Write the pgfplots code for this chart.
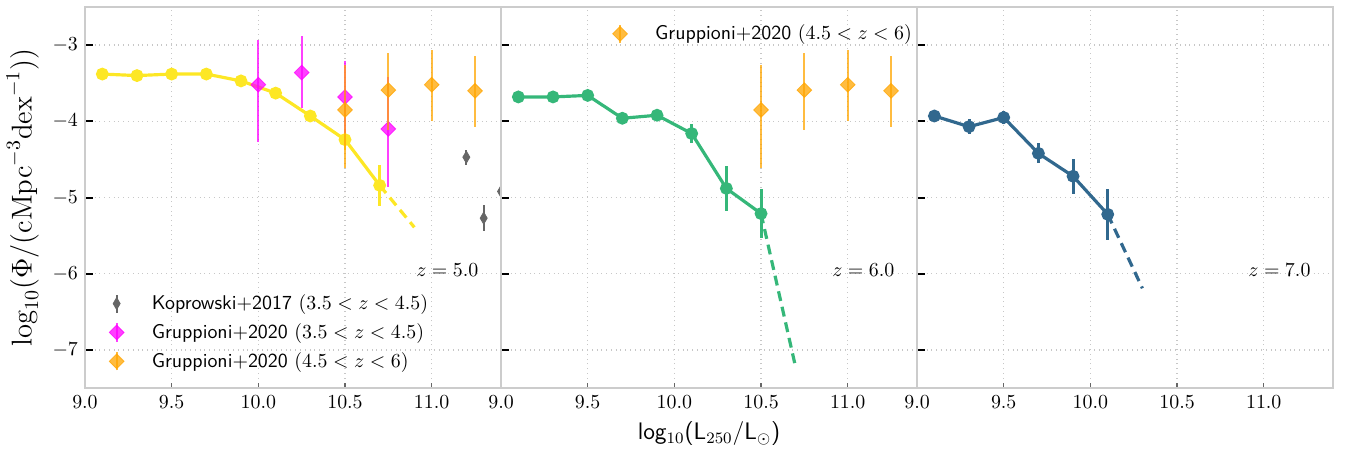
\documentclass[border=0pt]{standalone}
\usepackage{pgfplots}
\pgfplotsset{compat=1.18}
\usepgfplotslibrary{groupplots}
\usepackage{pgfplotstable}

\definecolor{vyellow}{HTML}{FDE725}
\definecolor{vgreen}{HTML}{35B779}
\definecolor{vblue}{HTML}{31688E}
\definecolor{kgray}{HTML}{666666}
\definecolor{gmag}{HTML}{FF00FF}
\definecolor{gorange}{HTML}{FFA500}

% model luminosity functions, x = log10 L250, y = log10 Phi, e = error
\pgfplotstableread{
x y e
9.1 -3.38 0.02
9.3 -3.40 0.02
9.5 -3.38 0.02
9.7 -3.38 0.02
9.9 -3.47 0.03
10.1 -3.63 0.04
10.3 -3.93 0.08
10.5 -4.24 0.14
10.7 -4.84 0.27
}\zfive
\pgfplotstableread{
x y e
9.1 -3.68 0.04
9.3 -3.68 0.03
9.5 -3.66 0.04
9.7 -3.96 0.07
9.9 -3.92 0.07
10.1 -4.16 0.12
10.3 -4.88 0.30
10.5 -5.21 0.32
}\zsix
\pgfplotstableread{
x y e
9.1 -3.93 0.08
9.3 -4.07 0.10
9.5 -3.95 0.09
9.7 -4.42 0.13
9.9 -4.72 0.23
10.1 -5.22 0.33
}\zseven

% observations
\pgfplotstableread{
x y ep em
11.2 -4.47 0.10 0.10
11.3 -5.27 0.17 0.17
11.4 -4.92 0.10 0.10
}\kop
\pgfplotstableread{
x y ep em
10.0 -3.52 0.59 0.75
10.25 -3.36 0.48 0.47
10.5 -3.68 0.47 0.47
10.75 -4.10 0.68 0.76
}\grlow
\pgfplotstableread{
x y ep em
10.5 -3.85 0.59 0.76
10.75 -3.59 0.49 0.52
11.0 -3.52 0.45 0.48
11.25 -3.60 0.46 0.47
}\grhigh

\pgfplotsset{
  model/.style={#1, line width=1.6pt, mark=*, mark size=2.4pt, mark options={solid},
    error bars/y dir=both, error bars/y explicit, error bars/error mark=none,
    error bars/error bar style={line width=1.5pt}},
  ext/.style={#1, line width=1.6pt, dash pattern=on 5pt off 3pt, no marks},
  errleg/.style={legend image code/.code={
      \draw[##1, line width=1pt, mark=none] (0.3cm,-0.16cm) -- (0.3cm,0.16cm);
      \draw[draw=none, fill=none, mark=none] (0cm,0cm) -- (0.85cm,0cm);
      \draw[##1, only marks] plot coordinates {(0.3cm,0cm)};}},
  kopsty/.style={kgray, mark=diamond*, mark size=3pt, mark options={xscale=0.78}},
  magsty/.style={gmag, opacity=0.75, mark=diamond*, mark size=3.7pt, mark options={xscale=1.33}},
  orasty/.style={gorange, opacity=0.75, mark=diamond*, mark size=3.7pt, mark options={xscale=1.33}},
  obs/.style={#1, only marks, error bars/y dir=both, error bars/y explicit,
    error bars/error mark=none, error bars/error bar style={line width=1pt}},
}

\begin{document}
\begin{tikzpicture}
\begin{groupplot}[
  group style={group size=3 by 1, horizontal sep=0pt, y descriptions at=edge left, group name=g},
  width=209pt, height=191.5pt, scale only axis,
  xmin=9, xmax=11.4, ymin=-7.5, ymax=-2.5,
  xtick={9,9.5,10,10.5,11}, ytick={-7,-6,-5,-4,-3},
  xticklabel style={/pgf/number format/.cd, fixed, fixed zerofill, precision=1},
  tick align=inside, xtick pos=bottom, ytick pos=left,
  major tick length=4pt,
  ytick style={black, line width=1pt},
  xtick style={black!60, line width=0.6pt, /pgfplots/major tick length=2.5pt},
  axis line style={draw=black!20, line width=1pt},
  grid=major, major grid style={black!22, dotted, line width=0.6pt},
  clip marker paths=true,
  legend cell align=left,
  legend style={draw=none, fill=none, font=\sffamily, row sep=1.5pt},
]
\nextgroupplot[ylabel={\Large$\log_{10}(\Phi/(\mathrm{cMpc}^{-3}\mathrm{dex}^{-1}))$},
  legend style={at={(0.02,0.025)}, anchor=south west}]
\addlegendimage{kopsty, errleg}\addlegendentry{Koprowski+2017 $(3.5<z<4.5)$}
\addlegendimage{magsty, errleg}\addlegendentry{Gruppioni+2020 $(3.5<z<4.5)$}
\addlegendimage{orasty, errleg}\addlegendentry{Gruppioni+2020 $(4.5<z<6)$}
\addplot[forget plot, model=vyellow] table[x=x, y=y, y error=e] {\zfive};
\addplot[forget plot, ext=vyellow] coordinates {(10.7,-4.84) (10.9,-5.39)};
\addplot[forget plot, obs=kopsty] table[x=x, y=y, y error plus=ep, y error minus=em] {\kop};
\addplot[forget plot, obs=magsty] table[x=x, y=y, y error plus=ep, y error minus=em] {\grlow};
\addplot[forget plot, obs=orasty] table[x=x, y=y, y error plus=ep, y error minus=em] {\grhigh};
\node[anchor=east] at (axis cs:11.31,-5.95) {$z=5.0$};

\nextgroupplot[xlabel={\large\sffamily log$_{10}$(L$_{250}$/L$_{\odot}$)},
  legend style={at={(0.23,0.975)}, anchor=north west}]
\addlegendimage{orasty, errleg}\addlegendentry{Gruppioni+2020 $(4.5<z<6)$}
\addplot[forget plot, model=vgreen] table[x=x, y=y, y error=e] {\zsix};
\addplot[forget plot, ext=vgreen] coordinates {(10.5,-5.21) (10.7,-7.23)};
\addplot[forget plot, obs=orasty] table[x=x, y=y, y error plus=ep, y error minus=em] {\grhigh};
\node[anchor=east] at (axis cs:11.31,-5.95) {$z=6.0$};

\nextgroupplot
\addplot[forget plot, model=vblue] table[x=x, y=y, y error=e] {\zseven};
\addplot[forget plot, ext=vblue] coordinates {(10.1,-5.22) (10.3,-6.19)};
\node[anchor=east] at (axis cs:11.31,-5.95) {$z=7.0$};
\end{groupplot}
\path (g c1r1.south west) ++(-40pt,-31.5pt) (g c3r1.north east) ++(8.5pt,3.5pt);
\end{tikzpicture}
\end{document}
